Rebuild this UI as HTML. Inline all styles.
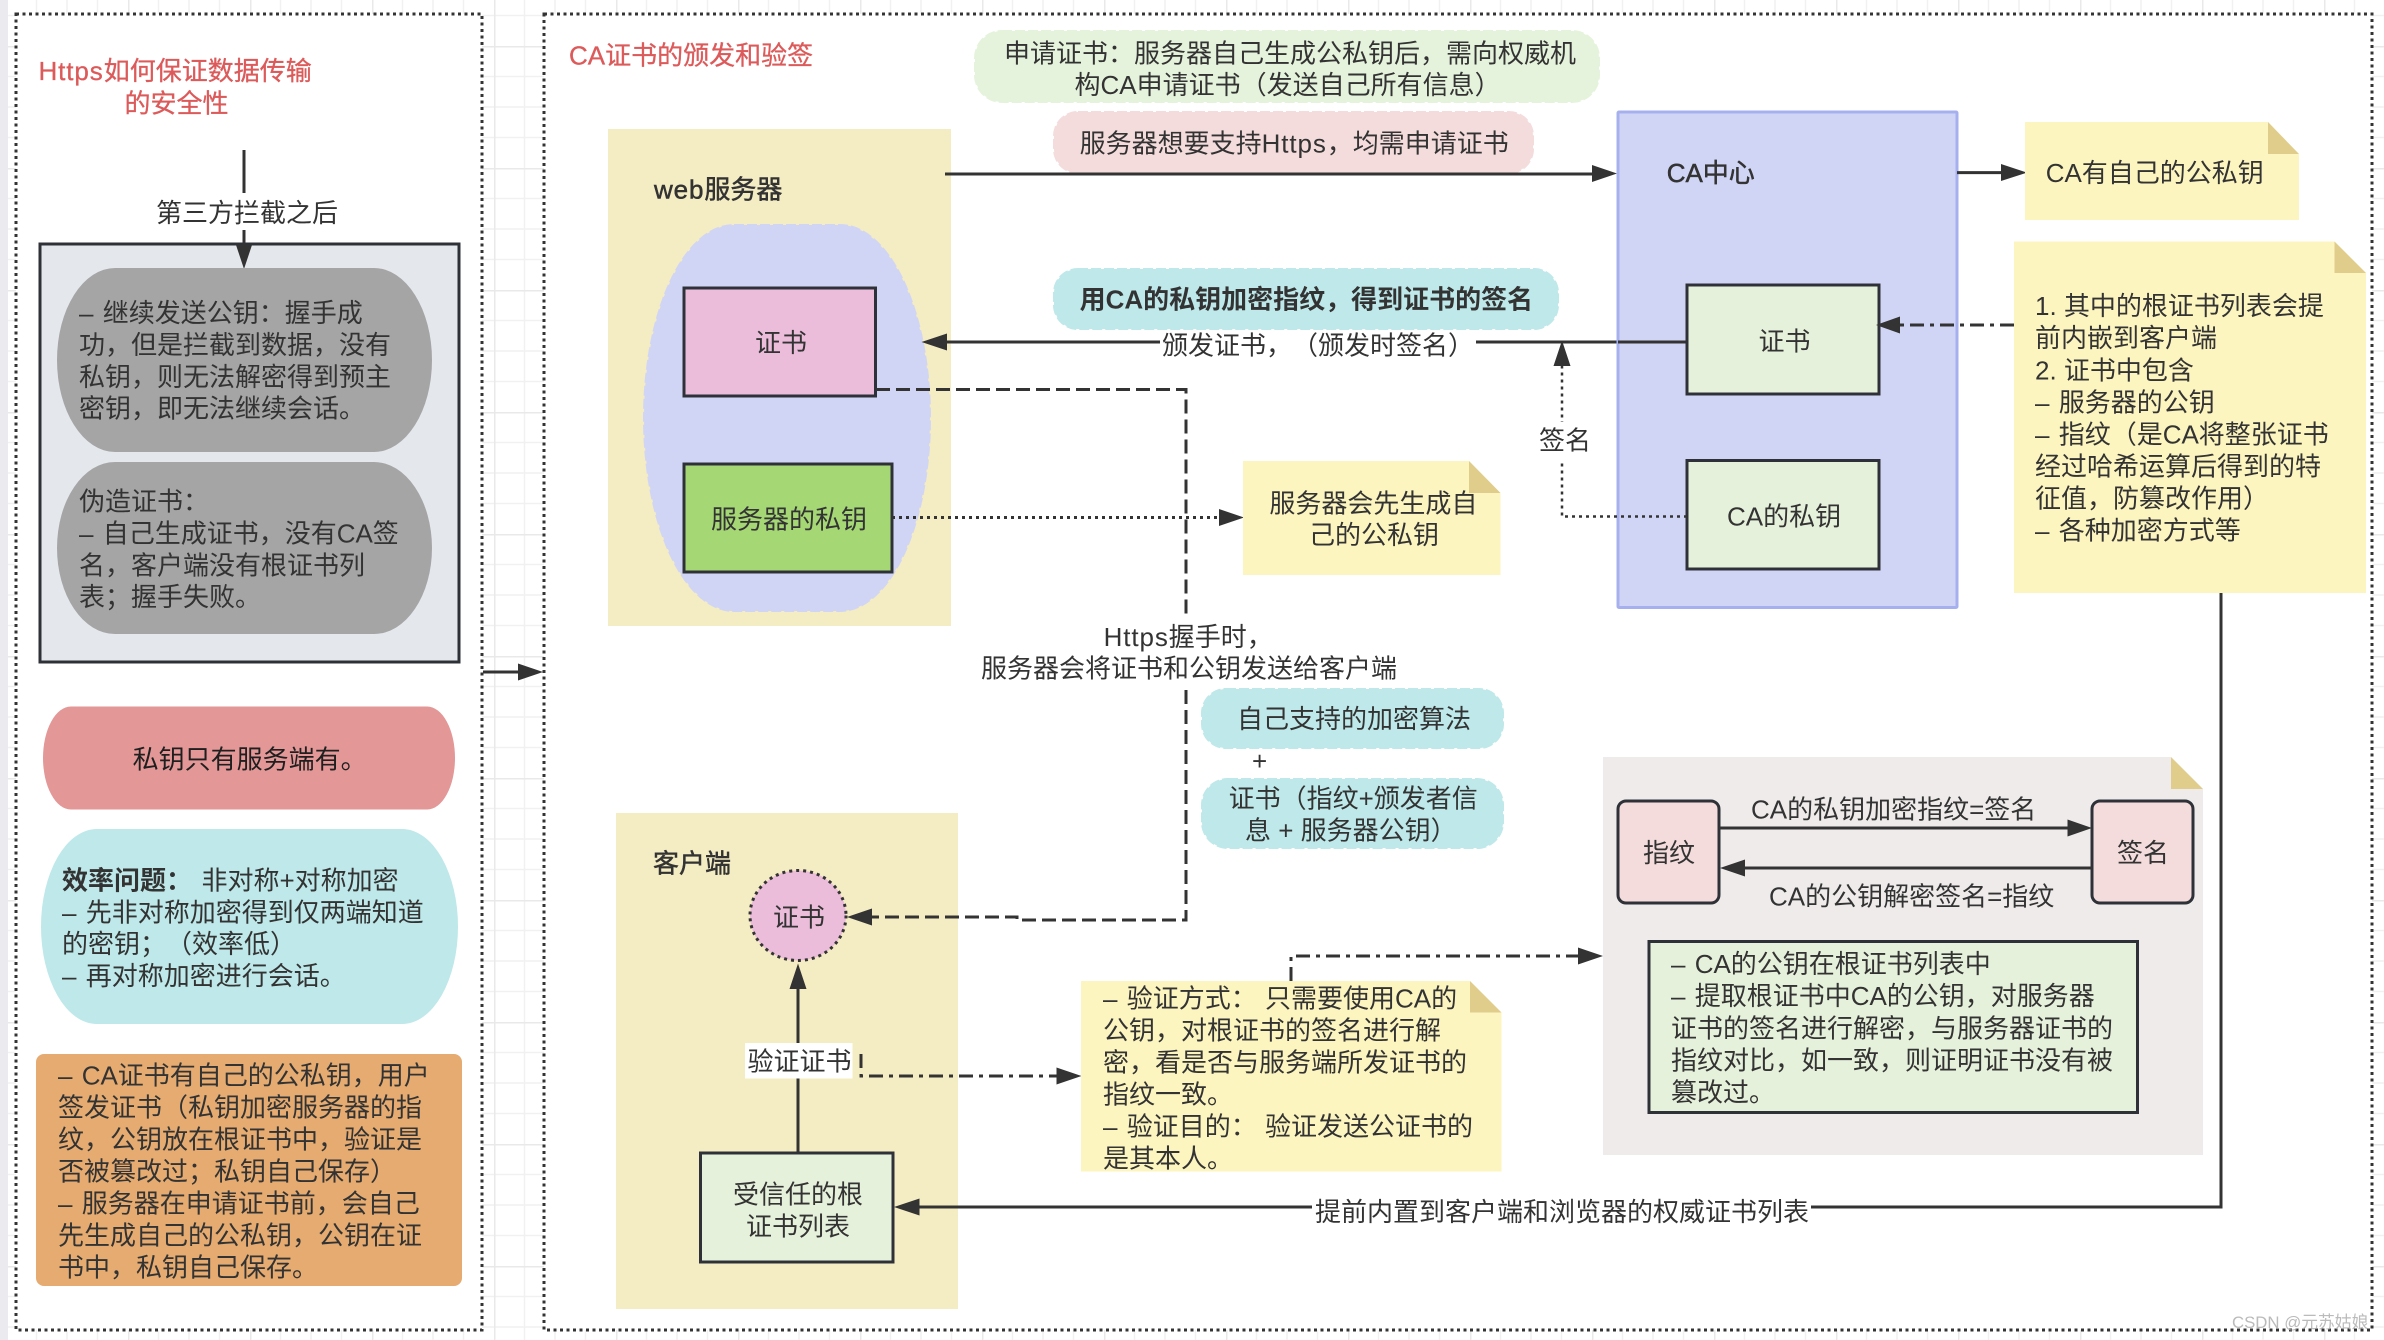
<!DOCTYPE html>
<html lang="zh"><head><meta charset="utf-8"><title>Https</title>
<style>
html,body{margin:0;padding:0;background:#fff}
svg{display:block}
text{font-family:"Liberation Sans","Noto Sans CJK SC",sans-serif;font-size:26px;fill:#333;text-spacing-trim:space-all;font-feature-settings:"chws" 0}
.r{fill:#DC5A5A;stroke:#DC5A5A;stroke-width:.3}
.m{stroke:#333;stroke-width:.5}
.b{font-weight:bold}
.l{fill:none;stroke:#333;stroke-width:3}
.da{stroke-dasharray:14 6}
.dt{stroke-dasharray:3 4}
.dd{stroke-dasharray:14 6 4 6}
.h{fill:#333}
.box{stroke:#2E3238;stroke-width:3}
.w{letter-spacing:.9px}
</style></head><body>
<svg xmlns="http://www.w3.org/2000/svg" width="2384" height="1340" viewBox="0 0 2384 1340">
<defs>
<pattern id="g" width="122" height="122" patternUnits="userSpaceOnUse" patternTransform="translate(6,46)">
<path d="M30.5 0V122M61 0V122M91.5 0V122M0 30.5H122M0 61H122M0 91.5H122" fill="none" stroke="#f1f1f1" stroke-width="1.5"/>
<path d="M0 0V122M0 0H122" fill="none" stroke="#e9e9e9" stroke-width="3"/>
</pattern>
</defs>
<rect width="2384" height="1340" fill="#fff"/>
<rect width="2384" height="1340" fill="url(#g)"/>
<rect x="0" y="0" width="8" height="1340" fill="#ebebef"/>

<!-- frames -->
<rect x="16" y="14" width="466" height="1316" fill="#fff" stroke="#333" stroke-width="3" stroke-dasharray="3 3.5"/>
<rect x="544" y="14" width="1828" height="1316" fill="#fff" stroke="#333" stroke-width="3" stroke-dasharray="3 3.5"/>

<!-- left column -->
<text class="r" x="38.5" y="80"><tspan class="w">Https</tspan>如何保证数据传输</text>
<text class="r" x="124.5" y="112.5">的安全性</text>

<rect x="40" y="244" width="419" height="418" fill="#E4E8EC" class="box"/>
<path class="l" d="M244 150V193M244 230V248"/>
<path class="h" d="M244 269L236 245H252Z"/>
<text x="156" y="222">第三方拦截之后</text>

<rect x="57" y="268" width="375" height="184" rx="58" ry="92" fill="#A5A5A5"/>
<text x="79" y="322">–<tspan dx="2"> 继续发送公钥：握手成</tspan></text>
<text x="79" y="354">功，但是拦截到数据，没有</text>
<text x="79" y="386">私钥，则无法解密得到预主</text>
<text x="79" y="417.5">密钥，即无法继续会话。</text>

<rect x="57" y="462" width="375" height="172" rx="58" ry="86" fill="#A5A5A5"/>
<text x="79" y="510.5">伪造证书：</text>
<text x="79" y="542.5">–<tspan dx="2"> 自己生成证书，没有CA签</tspan></text>
<text x="79" y="574.5">名，客户端没有根证书列</text>
<text x="79" y="606">表；握手失败。</text>

<path class="l" d="M483 672H520"/>
<path class="h" d="M543 672L518 663.5V680.5Z"/>

<rect x="43" y="706.5" width="412" height="103" rx="28" ry="51.5" fill="#E39797"/>
<text x="132.6" y="768.5" style="fill:#1f1f1f">私钥只有服务端有。</text>

<rect x="41" y="829" width="417" height="195" rx="56" ry="97.5" fill="#BEE8E9"/>
<text x="62" y="889.5"><tspan class="b">效率问题：</tspan><tspan x="201.5">非对称+对称加密</tspan></text>
<text x="62" y="921.5">–<tspan dx="2"> 先非对称加密得到仅两端知道</tspan></text>
<text x="62" y="953">的密钥；（效率低）</text>
<text x="62" y="985">–<tspan dx="2"> 再对称加密进行会话。</tspan></text>

<rect x="36" y="1054" width="426" height="232" rx="8" fill="#E5AB70"/>
<text x="58" y="1084.5">–<tspan dx="2"> CA证书有自己的公私钥，用户</tspan></text>
<text x="58" y="1116.5">签发证书（私钥加密服务器的指</text>
<text x="58" y="1148.5">纹，公钥放在根证书中，验证是</text>
<text x="58" y="1180.5">否被篡改过；私钥自己保存）</text>
<text x="58" y="1212.5">–<tspan dx="2"> 服务器在申请证书前，会自己</tspan></text>
<text x="58" y="1244.5">先生成自己的公私钥，公钥在证</text>
<text x="58" y="1276.5">书中，私钥自己保存。</text>

<!-- right title -->
<text class="r" x="569" y="64.5">CA证书的颁发和验签</text>

<!-- web server -->
<rect x="608" y="129" width="343" height="497" fill="#F4ECC2"/>
<text class="m" x="654" y="198.5"><tspan class="w">web</tspan>服务器</text>
<rect x="644" y="225" width="286" height="386" rx="90" ry="193" fill="#D1D5F5" stroke="#D1D5F5" stroke-width="2" stroke-dasharray="10 3"/>
<rect x="684" y="288" width="191.5" height="108" fill="#EBBDDB" class="box"/>
<text x="755" y="352">证书</text>
<rect x="684" y="464" width="208" height="108" fill="#A5D775" class="box"/>
<text x="711" y="528.5">服务器的私钥</text>

<!-- top pills -->
<rect x="975" y="31" width="624" height="71" rx="27" fill="#E6F3DC" stroke="#E6F3DC" stroke-width="2" stroke-dasharray="10 3"/>
<text x="1004" y="62.5">申请证书：服务器自己生成公私钥后，需向权威机</text>
<text x="1074.5" y="94">构CA申请证书（发送自己所有信息）</text>
<rect x="1054" y="112" width="479" height="61" rx="24" fill="#F4DCDC" stroke="#F4DCDC" stroke-width="2" stroke-dasharray="10 3"/>
<text x="1079.6" y="152.5">服务器想要支持<tspan class="w">Https</tspan>，均需申请证书</text>

<path class="l" d="M945 174H1595"/>
<path class="h" d="M1617 173.5L1592 165V182Z"/>

<rect x="1054" y="269" width="504" height="60" rx="24" fill="#BEE8E9" stroke="#BEE8E9" stroke-width="2" stroke-dasharray="10 3"/>
<text class="b" x="1079.6" y="308.5">用CA的私钥加密指纹，得到证书的签名</text>

<!-- issue arrow -->
<path class="l" d="M1687 342H1476M1160 342H945"/>
<path class="h" d="M921.5 342L947 333.5V350.5Z"/>
<text x="1162" y="354.5">颁发证书，（颁发时签名）</text>

<!-- CA center -->
<rect x="1618" y="112" width="339" height="495.5" rx="1" fill="#D1D5F5" stroke="#A6B0EE" stroke-width="3"/>
<text class="m" x="1666.7" y="182">CA中心</text>
<path class="l" d="M1687 342H1618"/>
<rect x="1687" y="285" width="192" height="109" fill="#E6F1DB" class="box"/>
<text x="1758.5" y="350.5">证书</text>
<rect x="1687" y="460.5" width="192" height="108.5" fill="#E6F1DB" class="box"/>
<text x="1727" y="525.5">CA的私钥</text>

<!-- signature dotted -->
<path class="l dt" style="stroke-width:2.5" d="M1687 516.5H1562V365"/>
<path class="h" d="M1562 340.5L1553.5 366H1570.5Z"/>
<rect x="1536" y="422" width="56" height="40" fill="#fff"/>
<text x="1539" y="449.5">签名</text>

<!-- CA sticky -->
<path class="l" d="M1957 172.6H2003"/>
<path class="h" d="M2027 172.6L2001 164V181Z"/>
<path d="M2025 122H2268L2299 154V220H2025Z" fill="#FDF5BF"/>
<path d="M2268 122L2299 154H2268Z" fill="#E1CD8B"/>
<text x="2045.7" y="182">CA有自己的公私钥</text>

<!-- big sticky -->
<path d="M2014 241.5H2334.5L2366 273V593H2014Z" fill="#FDF5BF"/>
<path d="M2334.5 241.5L2366 273H2334.5Z" fill="#E1CD8B"/>
<text x="2035" y="315">1. 其中的根证书列表会提</text>
<text x="2035" y="347">前内嵌到客户端</text>
<text x="2035" y="379.5">2. 证书中包含</text>
<text x="2035" y="411.5">–<tspan dx="2"> 服务器的公钥</tspan></text>
<text x="2035" y="443.5">–<tspan dx="2"> 指纹（是CA将整张证书</tspan></text>
<text x="2035" y="475.5">经过哈希运算后得到的特</text>
<text x="2035" y="507.5">征值，防篡改作用）</text>
<text x="2035" y="539.5">–<tspan dx="2"> 各种加密方式等</tspan></text>
<path class="l dd" d="M2014 325H1900"/>
<path class="h" d="M1876 325L1900 316.5V333.5Z"/>

<!-- dashed handshake (upper) -->
<path class="l da" d="M876 389.5H1186V617"/>
<text x="1103.6" y="646"><tspan class="w">Https</tspan>握手时，</text>
<text x="981" y="677.5">服务器会将证书和公钥发送给客户端</text>

<!-- sticky server -->
<path class="l dt" d="M892 517.5H1220"/>
<path class="h" d="M1244 517.5L1219 509V526Z"/>
<path d="M1243 461H1469L1500.5 493V575H1243Z" fill="#FDF5BF"/>
<path d="M1469 461L1500.5 493H1469Z" fill="#E1CD8B"/>
<text x="1269.4" y="512.5">服务器会先生成自</text>
<text x="1309" y="544">己的公私钥</text>

<!-- cyan pills -->
<rect x="1202" y="689" width="301" height="59" rx="24" fill="#BEE8E9" stroke="#BEE8E9" stroke-width="2" stroke-dasharray="10 3"/>
<text x="1237" y="728">自己支持的加密算法</text>
<text x="1252" y="770">+</text>
<rect x="1202" y="779" width="301" height="69" rx="26" fill="#BEE8E9" stroke="#BEE8E9" stroke-width="2" stroke-dasharray="10 3"/>
<text x="1228.6" y="807.5">证书（指纹+颁发者信</text>
<text x="1245" y="839.5">息 + 服务器公钥）</text>

<!-- client -->
<rect x="616" y="813" width="342" height="496" fill="#F4ECC2"/>
<text class="m" x="653" y="872.5">客户端</text>
<ellipse cx="798" cy="915.5" rx="48" ry="45" fill="#EBBDDB" stroke="#333" stroke-width="3" stroke-dasharray="3 4"/>
<text x="773" y="926.5">证书</text>
<path class="l" d="M798 1153V988"/>
<path class="h" d="M798 963.5L789.5 989H806.5Z"/>
<rect x="745" y="1043" width="107.5" height="35.5" fill="#fff"/>
<text x="747.5" y="1070.5">验证证书</text>
<rect x="700.5" y="1153" width="192.5" height="109" fill="#E6F1DB" class="box"/>
<text x="733" y="1203.5">受信任的根</text>
<text x="746" y="1235.5">证书列表</text>

<!-- dashed handshake (lower) -->
<path class="l da" d="M1186 690V920H1017V917H872"/>
<path class="h" d="M847 917L872 908.5V925.5Z"/>

<path class="l dd" d="M861 1054V1076H1058"/>
<path class="h" d="M1081.5 1076L1056.5 1067.5V1084.5Z"/>

<!-- verify sticky -->
<path d="M1081 981H1470L1501.5 1012.5V1171.5H1081Z" fill="#FDF5BF"/>
<path d="M1470 981L1501.5 1012.5H1470Z" fill="#E1CD8B"/>
<text x="1103" y="1007.5">–<tspan dx="2"> 验证方式：</tspan><tspan x="1265">只需要使用CA的</tspan></text>
<text x="1103" y="1039.5">公钥，对根证书的签名进行解</text>
<text x="1103" y="1071.5">密，看是否与服务端所发证书的</text>
<text x="1103" y="1103.5">指纹一致。</text>
<text x="1103" y="1135.5">–<tspan dx="2"> 验证目的：</tspan><tspan x="1265">验证发送公证书的</tspan></text>
<text x="1103" y="1167.5">是其本人。</text>

<path class="l dd" d="M1291 981V956H1580"/>
<path class="h" d="M1603 956L1578 947.5V964.5Z"/>

<!-- root line -->
<path class="l" d="M2221 593V1207H1811M1312 1207H918"/>
<path class="h" d="M894 1207L919.5 1198.5V1215.5Z"/>
<text x="1315" y="1221">提前内置到客户端和浏览器的权威证书列表</text>

<!-- gray sticky -->
<path d="M1603 757H2171L2203 789V1155H1603Z" fill="#EFEBEB"/>
<path d="M2171 757L2203 789H2171Z" fill="#E1CD8B"/>
<rect x="1618" y="801" width="101" height="102" rx="8" fill="#F4DCDC" class="box"/>
<text x="1643" y="862">指纹</text>
<rect x="2092" y="801" width="101" height="102" rx="8" fill="#F4DCDC" class="box"/>
<text x="2117" y="862">签名</text>
<path class="l" d="M1719 828H2070M2092 868H1743"/>
<path class="h" d="M2092 828L2067.5 819.5V836.5Z"/>
<path class="h" d="M1720 868L1745 859.5V876.5Z"/>
<text x="1751" y="818.5">CA的私钥加密指纹=签名</text>
<text x="1769" y="905.5">CA的公钥解密签名=指纹</text>
<rect x="1649" y="941.5" width="488.5" height="171" fill="#E6F1DB" class="box"/>
<text x="1671" y="973">–<tspan dx="2"> CA的公钥在根证书列表中</tspan></text>
<text x="1671" y="1005">–<tspan dx="2"> 提取根证书中CA的公钥，对服务器</tspan></text>
<text x="1671" y="1037.5">证书的签名进行解密，与服务器证书的</text>
<text x="1671" y="1069.5">指纹对比，如一致，则证明证书没有被</text>
<text x="1671" y="1101.5">篡改过。</text>

<text x="2232" y="1328" style="font-size:16.8px;fill:#aaa;fill-opacity:.8">CSDN @元苏姑娘</text>
</svg>
</body></html>
